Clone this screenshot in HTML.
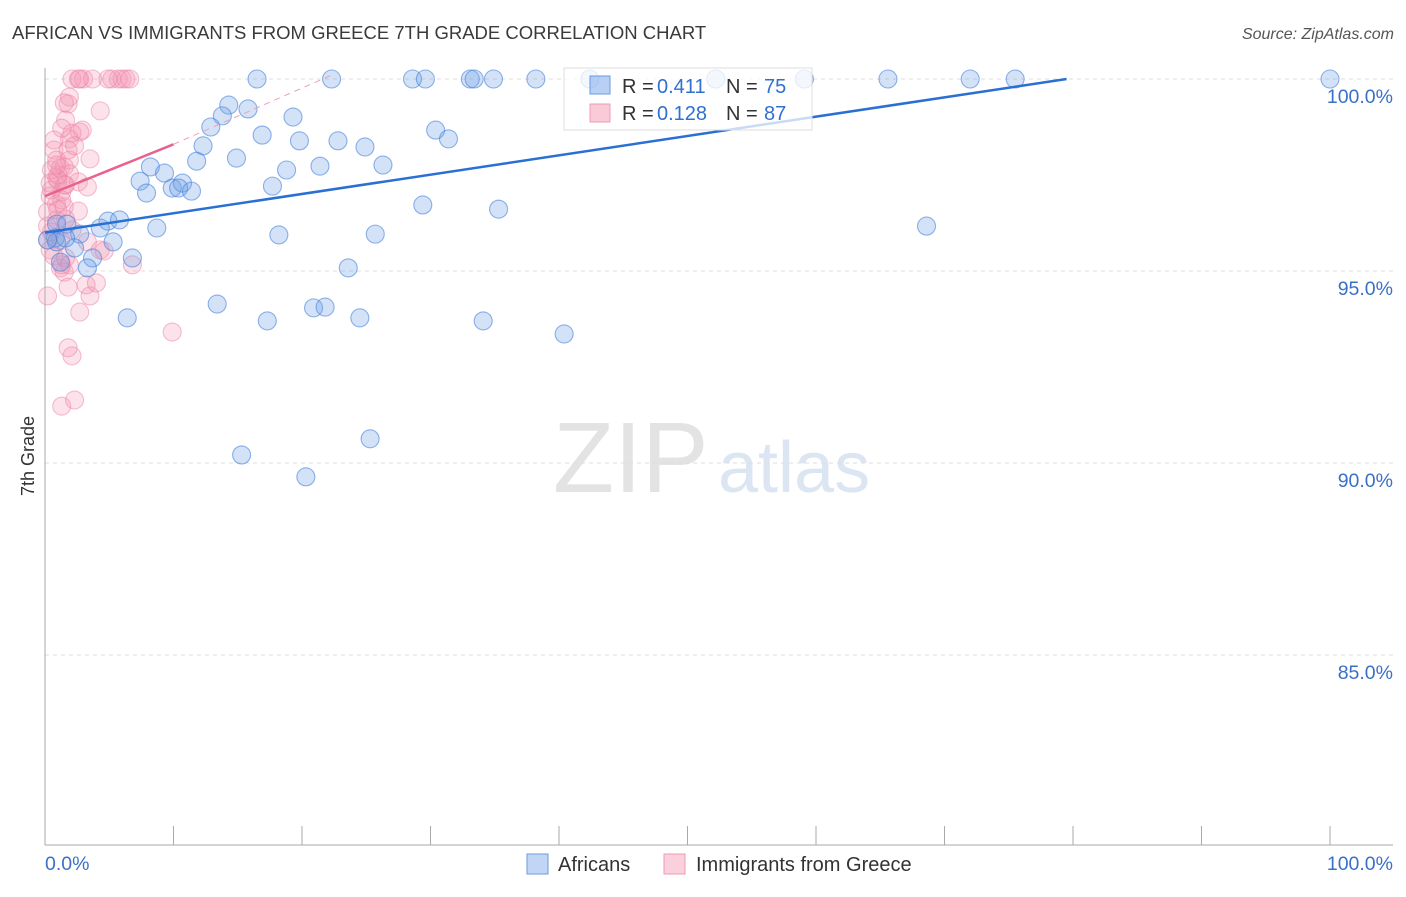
<!DOCTYPE html>
<html><head><meta charset="utf-8"><style>
body{margin:0;background:#fff;font-family:"Liberation Sans",sans-serif;}
svg text{font-family:"Liberation Sans",sans-serif;}
</style></head><body>
<svg id="chart" width="1406" height="892" viewBox="0 0 1406 892" xmlns="http://www.w3.org/2000/svg">
<text x="12" y="39" font-size="18.5" fill="#3a3a3a">AFRICAN VS IMMIGRANTS FROM GREECE 7TH GRADE CORRELATION CHART</text>
<text x="1394" y="39" font-size="16" fill="#555" text-anchor="end" font-style="italic">Source: ZipAtlas.com</text>
<g>
<text x="553" y="492" font-size="100" fill="#e3e3e3" font-family="Liberation Serif,serif">ZIP</text>
<text x="718" y="492" font-size="72" fill="#dce6f3">atlas</text>
</g>
<g id="grid"></g>
<g id="axes"></g>
<g id="pinkpts"></g>
<g id="bluepts"></g>
<g id="trends"></g>
<text transform="translate(34,456) rotate(-90)" font-size="18" fill="#333" text-anchor="middle">7th Grade</text>
<g>
<rect x="564" y="68" width="248" height="62" fill="rgba(255,255,255,0.75)" stroke="#ddd"/>
<rect x="590" y="76" width="20" height="18" fill="rgba(100,150,230,0.45)" stroke="#6a9ae0"/>
<rect x="590" y="104" width="20" height="18" fill="rgba(245,150,180,0.5)" stroke="#f09ab5"/>
<text x="622" y="93" font-size="20" fill="#333">R = </text><text x="657" y="93" font-size="20" fill="#3070d0">0.411</text>
<text x="726" y="93" font-size="20" fill="#333">N = </text><text x="764" y="93" font-size="20" fill="#3070d0">75</text>
<text x="622" y="120" font-size="20" fill="#333">R = </text><text x="657" y="120" font-size="20" fill="#3070d0">0.128</text>
<text x="726" y="120" font-size="20" fill="#333">N = </text><text x="764" y="120" font-size="20" fill="#3070d0">87</text>
</g>
<g>
<rect x="527" y="854" width="21" height="20" fill="rgba(100,150,230,0.4)" stroke="#6a9ae0"/>
<text x="558" y="871" font-size="20" fill="#333">Africans</text>
<rect x="664" y="854" width="21" height="20" fill="rgba(245,150,180,0.45)" stroke="#f09ab5"/>
<text x="696" y="871" font-size="20" fill="#333">Immigrants from Greece</text>
</g>
</svg>
<script>
const yTicks=[100,95,90,85];
const yTickLabels=["100.0%","95.0%","90.0%","85.0%"];
const xTicks=[0,10,20,30,40,50,60,70,80,90,100];
const blueX=[16.5,22.3,28.6,29.6,33.1,33.4,34.9,38.2,42.4,52.2,59.1,65.6,72.0,75.5,100,14.3,13.8,15.8,12.9,19.3,16.9,12.3,14.9,11.8,19.8,22.8,24.9,30.4,31.4,8.2,9.3,7.4,7.9,9.9,10.7,10.4,11.4,17.7,18.8,21.4,26.3,29.4,35.3,0.9,1.7,4.9,5.8,4.3,8.7,0.8,2.7,2.3,5.3,3.7,1.2,3.3,6.8,18.2,25.7,23.6,68.6,13.4,6.4,17.3,20.9,21.8,24.5,34.1,40.4,25.3,15.3,20.3,0.9,1.6,0.2];
const blueY=[100,100,100,100,100,100,100,100,100,100,100,100,100,100,100,99.32,99.04,99.22,98.75,99.01,98.54,98.26,97.94,97.86,98.39,98.39,98.23,98.67,98.44,97.71,97.55,97.34,97.03,97.16,97.29,97.16,97.08,97.21,97.63,97.73,97.76,96.72,96.61,96.22,96.22,96.30,96.33,96.12,96.12,95.86,95.96,95.60,95.76,95.34,95.23,95.08,95.34,95.94,95.96,95.08,96.17,94.14,93.78,93.70,94.04,94.06,93.78,93.70,93.36,90.63,90.21,89.64,95.76,95.86,95.81];
const pinkX=[2.1,2.6,3.0,2.7,3.7,5.2,5.7,6.0,6.3,6.6,4.9,1.9,1.8,1.5,4.3,1.6,2.9,2.1,1.9,2.7,1.3,0.7,0.9,1.2,1.9,3.5,1.5,0.9,0.5,1.6,1.9,0.9,1.5,2.6,0.2,0.4,0.5,1.2,2.1,3.3,4.3,0.4,1.2,1.3,1.5,1.8,3.2,3.5,2.7,0.2,6.8,9.9,1.8,2.1,1.3,2.3,1.0,1.3,1.8,2.3,0.9,0.2,0.7,1.6,4.6,4.0,0.7,1.0,1.5,0.5,0.9,0.4,1.3,2.6,3.3,1.0,0.2,1.6,1.9];
const pinkY=[100,100,100,100,100,100,100,100,100,100,100,99.53,99.35,99.38,99.17,98.93,98.67,98.59,98.44,98.62,98.72,98.15,97.89,97.68,97.89,97.92,97.71,97.42,97.11,97.24,97.53,96.74,96.67,96.56,96.54,96.95,96.02,95.81,96.07,95.76,95.55,95.55,95.08,95.16,94.97,94.58,94.64,94.35,93.93,94.35,95.16,93.41,93.0,92.79,91.48,91.64,97.37,97.06,98.15,98.26,96.33,96.17,95.39,95.34,95.52,94.69,98.41,97.5,97.24,97.63,97.76,97.29,96.85,97.32,97.19,96.59,95.81,96.35,95.16];
const blueTrend=[[0,96.0],[79.5,100]];
const pinkTrend=[[0,96.95],[10,98.3]];
const pinkTrendExt=[[10,98.3],[22.3,100.1]];

const NS="http://www.w3.org/2000/svg";
const X=v=>45+v*12.85, Y=v=>79+(100-v)*38.4;
function mk(p,t,a){const e=document.createElementNS(NS,t);for(const k in a)e.setAttribute(k,a[k]);p.appendChild(e);return e;}
const grid=document.getElementById('grid'),axes=document.getElementById('axes');
yTicks.forEach((t,i)=>{
 const l=mk(grid,'line',{x1:45,x2:1393,y1:Y(t),y2:Y(t),stroke:'#ddd','stroke-dasharray':'4,4'});
 
 
 const tx=mk(axes,'text',{x:1393,y:Y(t)+24,'font-size':19.5,fill:'#3a70c8','text-anchor':'end'});
 tx.textContent=yTickLabels[i];
 
 
});
mk(axes,'line',{x1:45,x2:45,y1:68,y2:845,stroke:'#aaa'});
mk(axes,'line',{x1:45,x2:1393,y1:845,y2:845,stroke:'#aaa'});
xTicks.forEach(t=>{
 const l=mk(axes,'line',{x1:X(t),x2:X(t),y1:826,y2:845,stroke:'#aaa'});
 
 
});
const x0=mk(axes,'text',{x:45,y:870,'font-size':19.5,fill:'#3a70c8'});x0.textContent='0.0%';


const x1=mk(axes,'text',{x:1393,y:870,'font-size':19.5,fill:'#3a70c8','text-anchor':'end'});x1.textContent='100.0%';


const pp=document.getElementById('pinkpts');
pinkX.forEach((v,i)=>{
 const c=mk(pp,'circle',{cx:X(v),cy:Y(pinkY[i]),r:9,fill:'rgba(245,150,180,0.28)',stroke:'rgba(235,130,165,0.5)','stroke-width':1.1});
 
 
});
const bp=document.getElementById('bluepts');
blueX.forEach((v,i)=>{
 const c=mk(bp,'circle',{cx:X(v),cy:Y(blueY[i]),r:9,fill:'rgba(110,160,230,0.3)',stroke:'rgba(70,130,220,0.6)','stroke-width':1.1});
 
 
});
const tr=document.getElementById('trends');
const bt=mk(tr,'line',{x1:X(blueTrend[0][0]),y1:Y(blueTrend[0][1]),x2:X(blueTrend[1][0]),y2:Y(blueTrend[1][1]),stroke:'#2a6fd4','stroke-width':2.5});


const pt=mk(tr,'line',{x1:X(pinkTrend[0][0]),y1:Y(pinkTrend[0][1]),x2:X(pinkTrend[1][0]),y2:Y(pinkTrend[1][1]),stroke:'#e8628c','stroke-width':2.5});


const pe=mk(tr,'line',{x1:X(pinkTrendExt[0][0]),y1:Y(pinkTrendExt[0][1]),x2:X(pinkTrendExt[1][0]),y2:Y(pinkTrendExt[1][1]),stroke:'#eea0b8','stroke-width':1,'stroke-dasharray':'6,5'});


</script>
</body></html>
